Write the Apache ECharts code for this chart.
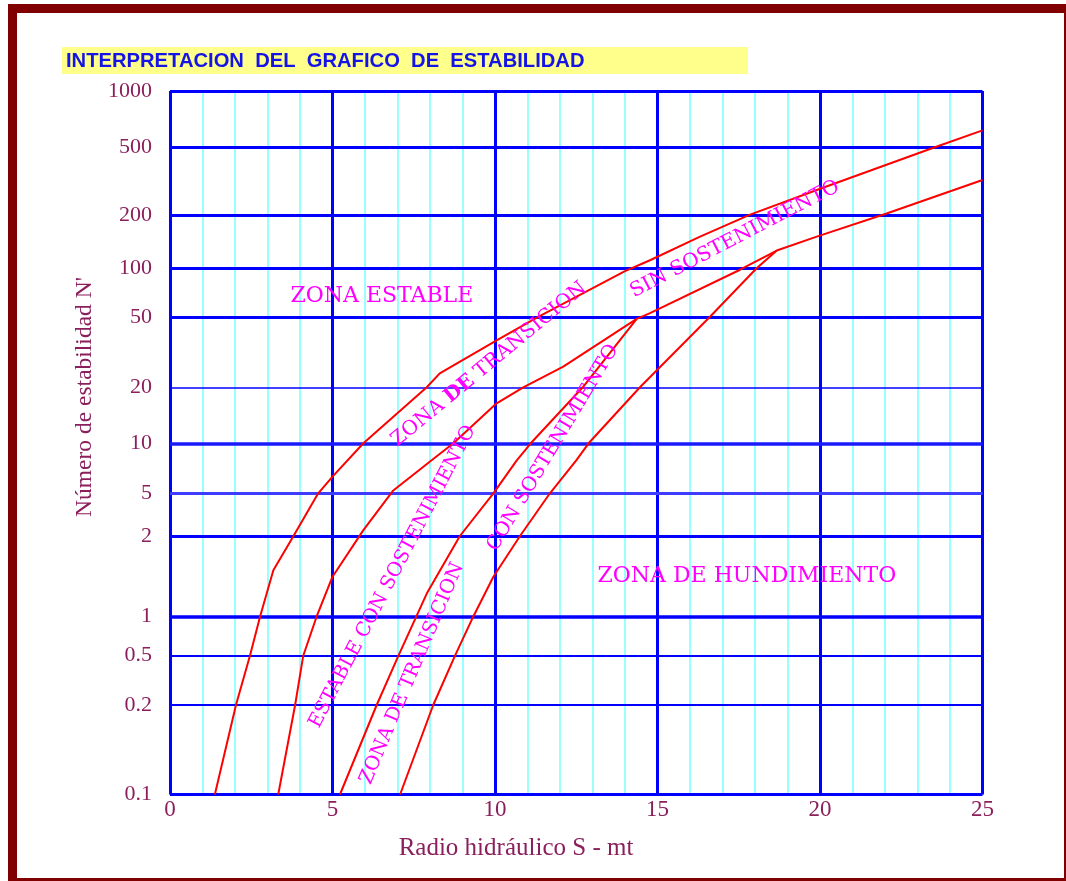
<!DOCTYPE html>
<html>
<head>
<meta charset="utf-8">
<script src="https://cdn.jsdelivr.net/npm/echarts@6/dist/echarts.min.js"></script>
<style>
html,body{margin:0;padding:0;background:#ffffff;}
#c{width:1066px;height:881px;}
</style>
</head>
<body>
<div id="c"></div>
<script>
// ---------------- data ----------------
const chartTitle = 'INTERPRETACION  DEL  GRAFICO  DE  ESTABILIDAD';
const xAxisTitle = 'Radio hidráulico S - mt';
const yAxisTitle = "Número de estabilidad N'";

const xMin = 0, xMax = 25;
const xMajorStep = 5, xMinorStep = 1;

// y tick labels (the chart's own, non-uniform scale)
const yTickValues = [0.1, 0.2, 0.5, 1, 2, 5, 10, 20, 50, 100, 200, 500, 1000];
const yTickLabels = ['0.1', '0.2', '0.5', '1', '2', '5', '10', '20', '50', '100', '200', '500', '1000'];
// position of each tick on the chart's vertical scale
const yTickPos = [0, 89.5, 138.8, 177.8, 258.5, 301.2, 351.2, 407.2, 477.2, 526.2, 579.5, 646.8, 703.5];

// curves: [S (m), N']
const curveA = [[1.38,0.1],[2.03,0.2],[2.46,0.5],[2.77,1],[3.18,1.49],[3.8,2],[4.56,5],[5.0,6.3],[5.95,10],[7.9,20],[8.3,24],[10.05,37],[11.3,50],[14.0,96],[14.77,111],[16.31,151],[17.85,201],[19.9,281],[23.49,500],[25,618]];
const curveB = [[3.33,0.1],[3.85,0.2],[4.1,0.5],[4.51,1],[5.0,1.41],[5.95,2.27],[6.87,5.2],[8.05,7.9],[8.72,10],[10.05,16.4],[10.87,20],[12.1,26.2],[14.36,49],[14.77,53],[17.54,98],[18.67,126],[19.9,151],[22.05,204],[25,322]];
const curveC = [[5.23,0.1],[6.36,0.2],[7.03,0.5],[7.9,1.22],[8.92,2],[9.95,5],[10.67,7.9],[11.1,10],[12.7,20],[14.36,49]];
const curveD = [[7.08,0.1],[8.1,0.2],[8.77,0.5],[9.33,1],[9.95,1.41],[10.77,2],[11.69,5],[12.5,7.9],[12.88,10],[14.46,20],[16.6,50],[18.05,100],[18.67,126]];

// zone annotations: text, S, N'
const zoneTexts = ['ZONA ESTABLE', 'ZONA DE HUNDIMIENTO', '{n|ZONA }{b|DE}{n| TRANSICION}', 'SIN SOSTENIMIENTO', 'ESTABLE CON SOSTENIMIENTO', 'ZONA DE TRANSICION', 'CON SOSTENIMIENTO'];
const zoneS = [6.52, 17.75, 9.82, 17.38, 6.85, 7.45, 11.78];
const zoneN = [67, 1.41, 27, 146, 1.41, 0.36, 9.4];

// ---------------- layout / style ----------------
const zoneAngle = [0, 0, 39.5, 27.5, 62.4, 67, 59];
const zoneSize = [22, 22, 20, 20, 19.5, 19.5, 19.5];
const hLineStyle = {
  '0.1':[3,'#0000ff'], '0.2':[2,'#0000ff'], '0.5':[2,'#0000ff'], '1':[3.5,'#0000ff'],
  '2':[3,'#0000ff'], '5':[3,'#3d3dff'], '10':[3.5,'#1a1aff'], '20':[1.5,'#0000ff'],
  '50':[3,'#0000ff'], '100':[3,'#0000ff'], '200':[3,'#0000ff'], '500':[3,'#0000ff'], '1000':[3,'#0000ff']
};
const labelColor = '#8a1f5c';
const serif = '"Liberation Serif", "Times New Roman", serif';
const zoneFont = '"DejaVu Serif", serif';

// maps N' onto the chart's vertical scale (piecewise log between printed ticks)
function yPos(n) {
  for (let i = 0; i < yTickValues.length - 1; i++) {
    const a = yTickValues[i], b = yTickValues[i + 1];
    if (n <= b || i === yTickValues.length - 2) {
      const f = Math.log(n / a) / Math.log(b / a);
      return yTickPos[i] + f * (yTickPos[i + 1] - yTickPos[i]);
    }
  }
}
function toPos(arr) { return arr.map(p => [p[0], yPos(p[1])]); }
function labelFor(v) {
  for (let i = 0; i < yTickPos.length; i++) if (Math.abs(yTickPos[i] - v) < 0.01) return yTickLabels[i];
  return '';
}

const chart = echarts.init(document.getElementById('c'), null, {renderer: 'canvas'});

const curveStyle = {color: '#ff0000', width: 2};
function curveSeries(name, data) {
  return {
    name, type: 'line', data: toPos(data), xAxisIndex: 0, yAxisIndex: 0,
    symbol: 'none', smooth: false, z: 5, silent: true,
    lineStyle: curveStyle, itemStyle: {color: '#ff0000'}
  };
}

chart.setOption({
  backgroundColor: '#ffffff',
  animation: false,
  grid: {left: 170, top: 91, width: 812.5, height: 703.5, containLabel: false, show: false},
  xAxis: [
    {
      type: 'value', min: xMin, max: xMax, interval: xMinorStep, position: 'bottom',
      axisLine: {show: false}, axisTick: {show: false}, axisLabel: {show: false},
      splitLine: {show: true, lineStyle: {color: '#80ffff', width: 1.6}}
    },
    {
      type: 'value', min: xMin, max: xMax, interval: xMajorStep, position: 'bottom', offset: 0,
      axisLine: {show: false}, axisTick: {show: false},
      axisLabel: {show: true, margin: 4, color: labelColor, fontFamily: serif, fontSize: 23},
      splitLine: {show: true, lineStyle: {color: '#0000ff', width: 3}}
    }
  ],
  yAxis: {
    type: 'value', min: yTickPos[0], max: yTickPos[yTickPos.length - 1],
    axisLine: {show: false},
    axisTick: {show: false, customValues: yTickPos},
    splitLine: {show: false},
    axisLabel: {
      show: true, customValues: yTickPos, margin: 18, color: labelColor,
      fontFamily: serif, fontSize: 22, formatter: v => labelFor(v)
    }
  },
  series: [
    {
      type: 'line', data: [], xAxisIndex: 0, yAxisIndex: 0, z: 2, silent: true,
      markLine: {
        silent: true, symbol: 'none', label: {show: false}, animation: false,
        data: yTickPos.map((p, i) => ({
          yAxis: p,
          lineStyle: {type: 'solid', width: hLineStyle[yTickLabels[i]][0], color: hLineStyle[yTickLabels[i]][1]}
        }))
      }
    },
    curveSeries('A', curveA),
    curveSeries('B', curveB),
    curveSeries('C', curveC),
    curveSeries('D', curveD)
  ]
});

// ---------------- texts / frame ----------------
const g = [];
// frame
const frameColor = '#800000';
g.push({type: 'rect', shape: {x: 8, y: 4, width: 9, height: 877}, style: {fill: frameColor}, z: 20});
g.push({type: 'rect', shape: {x: 8, y: 4, width: 1058, height: 9}, style: {fill: frameColor}, z: 20});
g.push({type: 'rect', shape: {x: 1064, y: 4, width: 2, height: 877}, style: {fill: frameColor}, z: 20});
g.push({type: 'rect', shape: {x: 8, y: 878, width: 1058, height: 3}, style: {fill: frameColor}, z: 20});
// title
g.push({type: 'rect', shape: {x: 62, y: 47, width: 686, height: 27}, style: {fill: '#ffff8c'}, z: 20});
g.push({type: 'text', x: 66, y: 61, z: 21,
  style: {text: chartTitle, fill: '#1414e6', font: 'bold 20.2px "Liberation Sans", Arial, sans-serif',
    align: 'left', verticalAlign: 'middle', textAlign: 'left', textVerticalAlign: 'middle'}});
// axis titles
g.push({type: 'text', x: 516, y: 848, z: 21,
  style: {text: xAxisTitle, fill: labelColor, font: '25px ' + serif,
    align: 'center', verticalAlign: 'middle', textAlign: 'center', textVerticalAlign: 'middle'}});
g.push({type: 'text', x: 85, y: 397, rotation: Math.PI / 2, z: 21,
  style: {text: yAxisTitle, fill: labelColor, font: '23.5px ' + serif,
    align: 'center', verticalAlign: 'middle', textAlign: 'center', textVerticalAlign: 'middle'}});
// zone labels, placed through the chart's scales
zoneTexts.forEach((t, i) => {
  const p = chart.convertToPixel({xAxisIndex: 0, yAxisIndex: 0}, [zoneS[i], yPos(zoneN[i])]);
  const f = zoneSize[i] + 'px ' + zoneFont;
  g.push({type: 'text', x: p[0], y: p[1], rotation: zoneAngle[i] * Math.PI / 180, z: 22,
    style: {text: t, fill: '#ff00ff', font: f,
      rich: {n: {fill: '#ff00ff', font: f}, b: {fill: '#ff00ff', font: 'bold ' + f}},
      align: 'center', verticalAlign: 'middle', textAlign: 'center', textVerticalAlign: 'middle'}});
});
chart.setOption({graphic: {elements: g}});
</script>
</body>
</html>
